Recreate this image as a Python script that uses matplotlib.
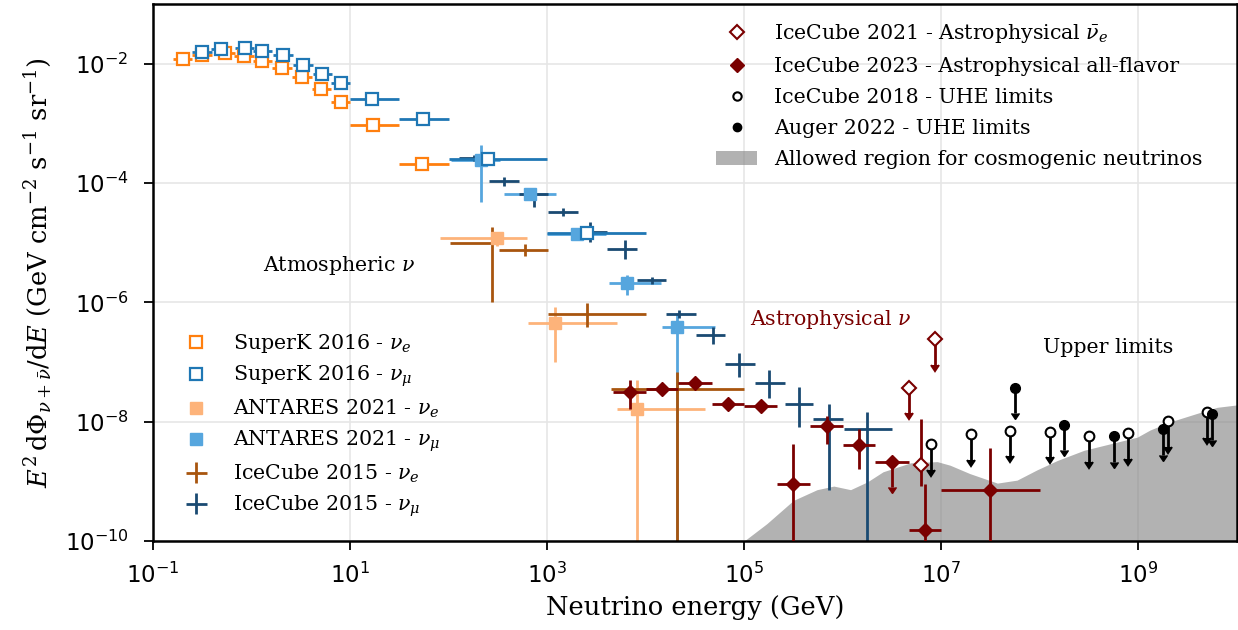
import numpy as np
import matplotlib
matplotlib.use('Agg')
import matplotlib.pyplot as plt
from matplotlib.lines import Line2D
from matplotlib.patches import Patch
from matplotlib.ticker import FixedLocator, NullLocator

plt.rcParams['font.family'] = 'serif'
plt.rcParams['font.serif'] = ['DejaVu Serif']
plt.rcParams['mathtext.fontset'] = 'dejavuserif'

# all values are log10(E / GeV) and log10(E^2 dPhi/dE)
FLOOR = -11.0  # error bars that run off the bottom of the plot

# SuperK 2016 nu_e
sk_e_x = [-0.7, -0.5, -0.27, -0.08, 0.11, 0.31, 0.51, 0.71, 0.91, 1.23, 1.73]
sk_e_y = [-1.92, -1.85, -1.82, -1.88, -1.95, -2.07, -2.22, -2.43, -2.64, -3.03, -3.69]
sk_e_xlo = [-0.8, -0.6, -0.37, -0.18, 0.01, 0.21, 0.41, 0.61, 0.81, 1.0, 1.5]
sk_e_xhi = [-0.6, -0.4, -0.17, 0.02, 0.21, 0.41, 0.61, 0.81, 1.0, 1.5, 2.0]

# SuperK 2016 nu_mu
sk_mu_x = [-0.5, -0.31, -0.07, 0.11, 0.32, 0.52, 0.72, 0.91, 1.22, 1.74, 2.40, 3.40]
sk_mu_y = [-1.81, -1.76, -1.73, -1.78, -1.86, -2.02, -2.18, -2.33, -2.59, -2.92, -3.60, -4.84]
sk_mu_xlo = [-0.6, -0.41, -0.17, 0.01, 0.22, 0.42, 0.62, 0.81, 1.0, 1.5, 2.0, 3.0]
sk_mu_xhi = [-0.4, -0.21, 0.03, 0.21, 0.42, 0.62, 0.82, 1.0, 1.5, 2.0, 3.0, 4.0]

# ANTARES 2021 nu_e
ant_e_x = [2.49, 3.08, 3.91]
ant_e_y = [-4.93, -6.34, -7.78]
ant_e_xlo = [1.91, 2.81, 3.71]
ant_e_xhi = [2.80, 3.71, 4.60]
ant_e_ylo = [-5.06, -7.00, FLOOR]
ant_e_yhi = [-4.82, -6.08, -7.30]

# ANTARES 2021 nu_mu
ant_mu_x = [2.33, 2.83, 3.30, 3.81, 4.32]
ant_mu_y = [-3.62, -4.18, -4.86, -5.67, -6.41]
ant_mu_xlo = [2.02, 2.56, 3.00, 3.63, 4.17]
ant_mu_xhi = [2.52, 3.09, 3.60, 4.16, 4.70]
ant_mu_ylo = [-4.32, -4.25, -4.95, -5.88, FLOOR]
ant_mu_yhi = [-3.37, -4.10, -4.78, -5.55, -6.18]

# IceCube 2015 nu_e
ic15_e_x = [2.445, 2.78, 3.40, 4.32]
ic15_e_y = [-5.005, -5.12, -6.19, -7.46]
ic15_e_xlo = [2.01, 2.51, 3.01, 3.65]
ic15_e_xhi = [2.50, 3.01, 4.00, 5.00]
ic15_e_ylo = [-6.00, -5.23, -6.42, FLOOR]
ic15_e_yhi = [-4.73, -5.03, -6.01, -7.17]

# IceCube 2015 nu_mu
ic15_mu_x = [2.26, 2.56, 2.87, 3.16, 3.44, 3.79, 4.06, 4.34, 4.68, 4.95, 5.25, 5.56, 5.86, 6.25]
ic15_mu_y = [-3.58, -3.97, -4.18, -4.49, -4.83, -5.11, -5.63, -6.19, -6.55, -7.04, -7.36, -7.70, -7.96, -8.13]
ic15_mu_xlo = [2.11, 2.41, 2.71, 3.01, 3.31, 3.61, 3.91, 4.21, 4.51, 4.81, 5.11, 5.41, 5.70, 6.01]
ic15_mu_xhi = [2.41, 2.71, 3.01, 3.31, 3.61, 3.91, 4.21, 4.51, 4.81, 5.11, 5.41, 5.70, 6.00, 6.50]
ic15_mu_ylo = [-3.63, -4.05, -4.41, -4.55, -4.99, -5.27, -5.69, -6.27, -6.70, -7.25, -7.61, -8.09, -9.14, FLOOR]
ic15_mu_yhi = [-3.53, -3.90, -4.10, -4.42, -4.65, -4.96, -5.58, -6.13, -6.41, -6.85, -7.14, -7.42, -7.70, -7.84]

# IceCube 2023 all-flavor
ic23_x = [3.84, 4.17, 4.50, 4.84, 5.17, 5.50, 5.84, 6.17, 6.84, 7.50]
ic23_y = [-7.51, -7.46, -7.36, -7.70, -7.74, -9.04, -8.08, -8.39, -9.81, -9.15]
ic23_xlo = [3.67, 4.00, 4.33, 4.67, 5.00, 5.33, 5.67, 6.00, 6.67, 7.00]
ic23_xhi = [4.00, 4.33, 4.67, 5.00, 5.33, 5.67, 6.00, 6.33, 7.00, 8.00]
ic23_ylo = [-7.79, -7.50, -7.40, -7.74, -7.78, FLOOR, -8.37, -8.80, FLOOR, FLOOR]
ic23_yhi = [-7.30, -7.42, -7.32, -7.66, -7.70, -8.38, -7.91, -8.13, -9.04, -8.45]
ic23_lim_x = [6.50]
ic23_lim_y = [-8.67]
ic23_lim_xlo = [6.33]
ic23_lim_xhi = [6.67]

# IceCube 2021 Glashow resonance (nu_e bar)
ic21_x = [6.80]
ic21_y = [-8.73]
ic21_ylo = [-9.08]
ic21_yhi = [-7.95]
ic21_lim_x = [6.67, 6.94]
ic21_lim_y = [-7.43, -6.62]

# UHE limits
ic18_x = [6.9, 7.3, 7.7, 8.1, 8.5, 8.9, 9.3, 9.7]
ic18_y = [-8.38, -8.21, -8.15, -8.17, -8.24, -8.19, -7.99, -7.84]
auger_x = [7.75, 8.25, 8.75, 9.25, 9.75]
auger_y = [-7.43, -8.05, -8.24, -8.13, -7.88]

# cosmogenic allowed region (upper edge)
cosmo_x = [5.0, 5.23, 5.5, 5.74, 5.91, 6.08, 6.25, 6.41, 6.69, 6.96, 7.09, 7.29, 7.57,
           7.77, 7.97, 8.18, 8.45, 8.72, 8.99, 9.12, 9.33, 9.60, 9.80, 10.0]
cosmo_y = [-10.0, -9.71, -9.32, -9.14, -9.08, -9.14, -9.01, -8.84, -8.69, -8.67, -8.73, -8.87, -9.03,
           -8.98, -8.81, -8.65, -8.48, -8.37, -8.26, -8.14, -8.00, -7.86, -7.76, -7.72]

ARROW = 0.43  # length of the upper-limit arrows in decades

c_sk_e = '#ff7f0e'
c_sk_mu = '#1f77b4'
c_ant_e = '#fdb37a'
c_ant_mu = '#56a6de'
c_ic_e = '#a8550e'
c_ic_mu = '#1a4a72'
c_ic23 = '#7a0000'

FS = 14.8


def p(v):
    return 10.0 ** np.asarray(v, dtype=float)


def errs(c, lo, hi):
    return np.vstack([p(c) - p(lo), p(hi) - p(c)])


fig = plt.figure(figsize=(12.38, 6.3), dpi=100)
ax = fig.add_axes([0.1236, 0.1413, 0.8754, 0.8524])

ax.set_xscale('log')
ax.set_yscale('log')
ax.set_xlim(1e-1, 1e10)
ax.set_ylim(1e-10, 1e-1)

ax.grid(True, color='0.9', lw=1.2, zorder=0)
ax.set_axisbelow(True)

ax.fill_between(p(cosmo_x), 1e-12, p(cosmo_y), color='gray', alpha=0.6, lw=0, zorder=1)

lw = 2.0
ax.errorbar(p(ant_e_x), p(ant_e_y), xerr=errs(ant_e_x, ant_e_xlo, ant_e_xhi),
            yerr=errs(ant_e_y, ant_e_ylo, ant_e_yhi), fmt='s', color=c_ant_e,
            ms=8.5, elinewidth=lw)
ax.errorbar(p(ant_mu_x), p(ant_mu_y), xerr=errs(ant_mu_x, ant_mu_xlo, ant_mu_xhi),
            yerr=errs(ant_mu_y, ant_mu_ylo, ant_mu_yhi), fmt='s', color=c_ant_mu,
            ms=8.5, elinewidth=lw)
eb_ic_e = ax.errorbar(p(ic15_e_x), p(ic15_e_y), xerr=errs(ic15_e_x, ic15_e_xlo, ic15_e_xhi),
                      yerr=errs(ic15_e_y, ic15_e_ylo, ic15_e_yhi), fmt='none',
                      ecolor=c_ic_e, elinewidth=lw)
eb_ic_mu = ax.errorbar(p(ic15_mu_x), p(ic15_mu_y), xerr=errs(ic15_mu_x, ic15_mu_xlo, ic15_mu_xhi),
                       yerr=errs(ic15_mu_y, ic15_mu_ylo, ic15_mu_yhi), fmt='none',
                       ecolor=c_ic_mu, elinewidth=lw)
ax.errorbar(p(sk_e_x), p(sk_e_y), xerr=errs(sk_e_x, sk_e_xlo, sk_e_xhi), fmt='s',
            color=c_sk_e, mfc='white', mec=c_sk_e, mew=1.6, ms=8, elinewidth=lw)
ax.errorbar(p(sk_mu_x), p(sk_mu_y), xerr=errs(sk_mu_x, sk_mu_xlo, sk_mu_xhi), fmt='s',
            color=c_sk_mu, mfc='white', mec=c_sk_mu, mew=1.6, ms=8, elinewidth=lw)

# astrophysical
ax.errorbar(p(ic23_x), p(ic23_y), xerr=errs(ic23_x, ic23_xlo, ic23_xhi),
            yerr=errs(ic23_y, ic23_ylo, ic23_yhi), fmt='D', color=c_ic23,
            ms=7, elinewidth=lw, zorder=3)
ax.errorbar(p(ic23_lim_x), p(ic23_lim_y), xerr=errs(ic23_lim_x, ic23_lim_xlo, ic23_lim_xhi),
            yerr=p(ic23_lim_y) * (1 - 10 ** -ARROW), uplims=True, fmt='D',
            color=c_ic23, ms=7, elinewidth=lw, zorder=3)
ax.errorbar(p(ic21_x), p(ic21_y), yerr=errs(ic21_y, ic21_ylo, ic21_yhi),
            fmt='D', color=c_ic23, mfc='white', mec=c_ic23, mew=1.5, ms=7,
            elinewidth=lw, zorder=3)
ax.errorbar(p(ic21_lim_x), p(ic21_lim_y), yerr=p(ic21_lim_y) * (1 - 10 ** -ARROW),
            uplims=True, fmt='D', color=c_ic23, mfc='white', mec=c_ic23, mew=1.5,
            ms=7, elinewidth=lw, zorder=3)

# UHE limits
ax.errorbar(p(ic18_x), p(ic18_y), yerr=p(ic18_y) * (1 - 10 ** -ARROW), uplims=True,
            fmt='o', color='black', mfc='white', mec='black', mew=1.5, ms=7,
            elinewidth=lw, zorder=3)
ax.errorbar(p(auger_x), p(auger_y), yerr=p(auger_y) * (1 - 10 ** -ARROW), uplims=True,
            fmt='o', color='black', ms=7, elinewidth=lw, zorder=3)

ax.text(1.31, 10 ** -5.375, r'Atmospheric $\nu$', fontsize=FS, ha='left', va='center')
ax.text(10 ** 5.06, 10 ** -6.28, r'Astrophysical $\nu$', fontsize=FS, ha='left',
        va='center', color=c_ic23)
ax.text(10 ** 8.036, 10 ** -6.75, 'Upper limits', fontsize=FS, ha='left', va='center')

ax.xaxis.set_major_locator(FixedLocator(10.0 ** np.arange(-1, 11, 2)))
ax.yaxis.set_major_locator(FixedLocator(10.0 ** np.arange(-10, 0, 2)))
ax.xaxis.set_minor_locator(NullLocator())
ax.yaxis.set_minor_locator(NullLocator())
ax.tick_params(which='major', length=6.5, width=1.3, labelsize=16.5,
               labelfontfamily='DejaVu Sans')
ax.tick_params(axis='y', pad=11)
ax.tick_params(axis='x', pad=9)
for s in ax.spines.values():
    s.set_linewidth(1.8)

ax.set_xlabel('Neutrino energy (GeV)', fontsize=18.5, labelpad=5)
ax.set_ylabel(r'$E^2\,\mathrm{d}\Phi_{\nu+\bar{\nu}}/\mathrm{d}E$ (GeV cm$^{-2}$ s$^{-1}$ sr$^{-1}$)',
              fontsize=18.5, labelpad=8)

# legends
h_top = [
    Line2D([], [], ls='none', marker='D', ms=7, mfc='white', mec=c_ic23, mew=1.5),
    Line2D([], [], ls='none', marker='D', ms=7, color=c_ic23),
    Line2D([], [], ls='none', marker='o', ms=6, mfc='white', mec='black', mew=1.5),
    Line2D([], [], ls='none', marker='o', ms=6, color='black'),
    Patch(facecolor='gray', alpha=0.6, lw=0),
]
l_top = [
    r'IceCube 2021 - Astrophysical $\bar{\nu}_e$',
    'IceCube 2023 - Astrophysical all-flavor',
    'IceCube 2018 - UHE limits',
    'Auger 2022 - UHE limits',
    'Allowed region for cosmogenic neutrinos',
]
leg1 = ax.legend(h_top, l_top, loc='upper right', bbox_to_anchor=(0.985, 1.0),
                 frameon=False, fontsize=FS, labelspacing=0.58)
ax.add_artist(leg1)

h_bot = [
    Line2D([], [], ls='none', marker='s', ms=8, mfc='white', mec=c_sk_e, mew=1.6),
    Line2D([], [], ls='none', marker='s', ms=8, mfc='white', mec=c_sk_mu, mew=1.6),
    Line2D([], [], ls='none', marker='s', ms=8.5, color=c_ant_e),
    Line2D([], [], ls='none', marker='s', ms=8.5, color=c_ant_mu),
    eb_ic_e,
    eb_ic_mu,
]
l_bot = [
    r'SuperK 2016 - $\nu_e$',
    r'SuperK 2016 - $\nu_\mu$',
    r'ANTARES 2021 - $\nu_e$',
    r'ANTARES 2021 - $\nu_\mu$',
    r'IceCube 2015 - $\nu_e$',
    r'IceCube 2015 - $\nu_\mu$',
]
ax.legend(h_bot, l_bot, loc='lower left', bbox_to_anchor=(0.004, 0.006),
          frameon=False, fontsize=FS, labelspacing=0.42)

fig.savefig('out.png', dpi=100)
